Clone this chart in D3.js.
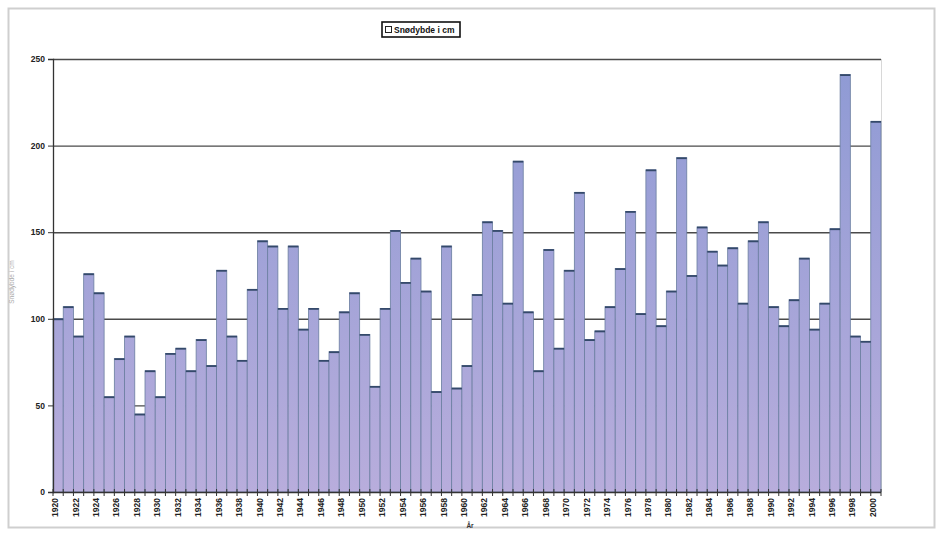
<!DOCTYPE html>
<html>
<head>
<meta charset="utf-8">
<script src="https://cdn.jsdelivr.net/npm/d3@7"></script>
<style>
  html, body { margin: 0; padding: 0; background: #fff; }
  svg { display: block; }
  text { font-family: "Liberation Sans", Arial, sans-serif; }
</style>
</head>
<body>
<svg id="chart" width="940" height="533"></svg>
<script>
const years = d3.range(1920, 2001);
const snowDepth = [
  100, 107, 90, 126, 115, 55, 77, 90, 45, 70,
  55, 80, 83, 70, 88, 73, 128, 90, 76, 117,
  145, 142, 106, 142, 94, 106, 76, 81, 104, 115,
  91, 61, 106, 151, 121, 135, 116, 58, 142, 60,
  73, 114, 156, 151, 109, 191, 104, 70, 140, 83,
  128, 173, 88, 93, 107, 129, 162, 103, 186, 96,
  116, 193, 125, 153, 139, 131, 141, 109, 145, 156,
  107, 96, 111, 135, 94, 109, 152, 241, 90, 87,
  214
];
const yTicks = [0, 50, 100, 150, 200, 250];
const xLabelYears = years.filter(y => y % 2 === 0);
const seriesName = "Snødybde i cm";
const xTitle = "År";
const yTitle = "Snødybde i cm";

const svg = d3.select("#chart");
const W = 940, H = 533;
const m = { left: 53, right: 881, top: 59, bottom: 492 };

// scan frame
svg.append("rect").attr("x", 0).attr("y", 0).attr("width", W).attr("height", H).attr("fill", "#fff");
svg.append("rect").attr("x", 8.5).attr("y", 8.5).attr("width", 926).attr("height", 519)
  .attr("fill", "none").attr("stroke", "#cfcfcf").attr("stroke-width", 2);

const x = d3.scaleBand().domain(years).range([m.left, m.right]).padding(0);
const y = d3.scaleLinear().domain([0, 250]).range([m.bottom, m.top]);

const defs = svg.append("defs");
const grad = defs.append("linearGradient").attr("id", "barGrad")
  .attr("gradientUnits", "userSpaceOnUse")
  .attr("x1", 0).attr("x2", 0).attr("y1", m.top).attr("y2", m.bottom);
grad.append("stop").attr("offset", "0%").attr("stop-color", "#8e9ad4");
grad.append("stop").attr("offset", "100%").attr("stop-color", "#b8addc");

// plot area right border
svg.append("line").attr("x1", m.right + 0.5).attr("x2", m.right + 0.5)
  .attr("y1", m.top).attr("y2", m.bottom).attr("stroke", "#d8d8d8");

// gridlines
svg.append("g").selectAll("line").data(yTicks.filter(d => d > 0)).join("line")
  .attr("x1", m.left).attr("x2", m.right)
  .attr("y1", d => y(d) + 0.5).attr("y2", d => y(d) + 0.5)
  .attr("stroke", "#4a4a4a").attr("stroke-width", 1.4);

// bars
const bars = svg.append("g");
bars.selectAll("rect").data(years).join("rect")
  .attr("x", d => x(d))
  .attr("y", (d, i) => y(snowDepth[i]))
  .attr("width", x.bandwidth())
  .attr("height", (d, i) => y(0) - y(snowDepth[i]))
  .attr("fill", "url(#barGrad)")
  .attr("stroke", "#6a7ea0").attr("stroke-width", 0.8);
bars.selectAll("line").data(years).join("line")
  .attr("x1", d => x(d)).attr("x2", d => x(d) + x.bandwidth())
  .attr("y1", (d, i) => y(snowDepth[i]) + 0.5).attr("y2", (d, i) => y(snowDepth[i]) + 0.5)
  .attr("stroke", "#34496a").attr("stroke-width", 1.8);

// y axis
const yAxis = d3.axisLeft(y).tickValues(yTicks).tickSize(5).tickPadding(3);
const gy = svg.append("g").attr("transform", `translate(${m.left},0)`).call(yAxis);
gy.select(".domain").attr("stroke", "#333").attr("stroke-width", 1.3);
gy.selectAll(".tick line").attr("stroke", "#333");
gy.selectAll(".tick text").attr("font-size", 8.5).attr("font-weight", "bold").attr("fill", "#222");

// x axis line + ticks at category boundaries
svg.append("line").attr("x1", m.left).attr("x2", m.right)
  .attr("y1", m.bottom + 0.5).attr("y2", m.bottom + 0.5)
  .attr("stroke", "#333").attr("stroke-width", 1.3);
const boundaries = years.map(d => x(d)).concat([m.right]);
svg.append("g").selectAll("line").data(boundaries).join("line")
  .attr("x1", d => d).attr("x2", d => d)
  .attr("y1", m.bottom - 3).attr("y2", m.bottom + 4)
  .attr("stroke", "#333").attr("stroke-width", 1);

// x labels (rotated)
svg.append("g").selectAll("text").data(xLabelYears).join("text")
  .attr("transform", d => `translate(${x(d) + x.bandwidth() / 2 - 3},${m.bottom + 6}) rotate(-90)`)
  .attr("text-anchor", "end").attr("dy", "0.35em")
  .attr("font-size", 8.5).attr("font-weight", "bold").attr("fill", "#222")
  .text(d => d);

// axis titles
svg.append("text").attr("x", 470).attr("y", 528).attr("text-anchor", "middle")
  .attr("font-size", 6.5).attr("font-weight", "bold").attr("fill", "#333").text(xTitle);
svg.append("text").attr("transform", "translate(14,282) rotate(-90)")
  .attr("text-anchor", "middle").attr("font-size", 6.5).attr("fill", "#aaa").text(yTitle);

// legend
const lg = svg.append("g");
lg.append("rect").attr("x", 382).attr("y", 22).attr("width", 78).attr("height", 15)
  .attr("fill", "#fff").attr("stroke", "#111").attr("stroke-width", 1.6);
lg.append("rect").attr("x", 385.5).attr("y", 26.5).attr("width", 6).attr("height", 6)
  .attr("fill", "#fff").attr("stroke", "#222").attr("stroke-width", 1);
lg.append("text").attr("x", 394).attr("y", 32.5)
  .attr("font-size", 8.5).attr("font-weight", "bold").attr("fill", "#111").text(seriesName);
</script>
</body>
</html>
